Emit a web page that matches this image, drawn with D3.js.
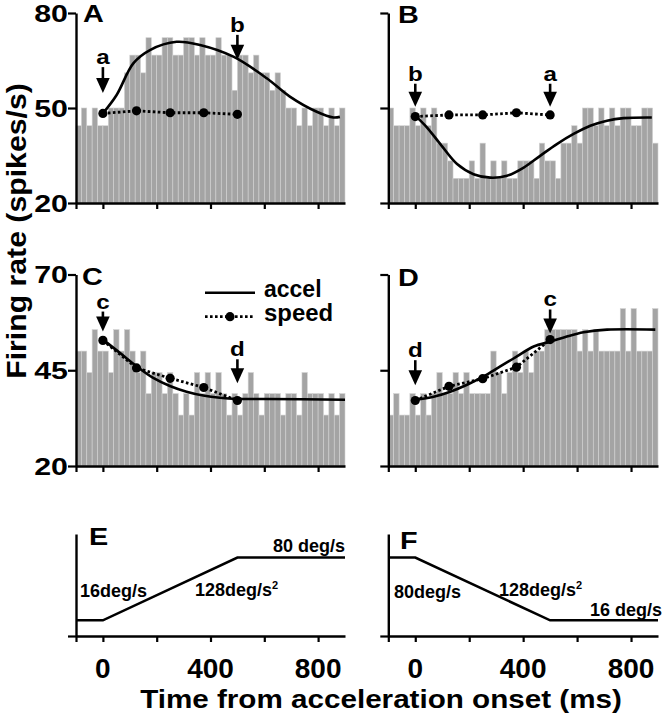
<!DOCTYPE html>
<html><head><meta charset="utf-8">
<script src="https://cdn.jsdelivr.net/npm/d3@7"></script>
<style>
body{margin:0;background:#fff}
svg{display:block}
text{font-family:"Liberation Sans",Arial,Helvetica,sans-serif;font-weight:bold;fill:#000}
</style>
</head><body>
<svg id="chart" width="662" height="719"></svg>
<script>
// ---------------- DATA ----------------
const binStartMs = [-100,-80,-60,-40,-20,0,20,40,60,80,100,120,140,160,180,200,220,240,260,280,300,320,340,360,380,400,420,440,460,480,500,520,540,560,580,600,620,640,660,680,700,720,740,760,780,800,820,840,860,880];
const binWidthMs = 20;

// firing rate histograms (spikes/s)
const histA = [44.4,50,44.4,50,44.4, 44.4,50,50,50,61.1, 66.7,66.7,61.1,72.2,66.7, 66.7,72.2,72.2,66.7,66.7, 72.2,72.2,66.7,72.2,66.7, 66.7,72.2,66.7,66.7,55.6, 66.7,66.7,61.1,66.7,61.1, 61.1,55.6,61.1,55.6,50, 50,44.4,50,44.4,50, 50,44.4,50,44.4,50];
const histB = [50,44.4,44.4,44.4,50, 44.4,50,44.4,50,38.9, 38.9,33.3,27.8,27.8,27.8, 33.3,27.8,38.9,27.8,33.3, 27.8,33.3,27.8,27.8,33.3, 33.3,33.3,27.8,38.9,33.3, 33.3,27.8,38.9,38.9,44.4, 38.9,50,50,44.4,50, 44.4,50,44.4,50,50, 44.4,44.4,50,50,38.9];
const histC = [50,50,44.4,55.6,50, 50,44.4,55.6,50,55.6, 50,44.4,50,38.9,44.4, 44.4,38.9,44.4,38.9,33.3, 38.9,33.3,44.4,38.9,44.4, 38.9,44.4,38.9,33.3,38.9, 33.3,38.9,44.4,38.9,33.3, 38.9,38.9,38.9,33.3,38.9, 38.9,33.3,44.4,38.9,38.9, 38.9,33.3,38.9,33.3,38.9];
const histD = [33.3,38.9,33.3,33.3,38.9, 33.3,38.9,33.3,38.9,44.4, 38.9,38.9,44.4,38.9,44.4, 38.9,38.9,38.9,38.9,50, 44.4,38.9,44.4,50,44.4, 50,44.4,50,50,55.6, 55.6,55.6,55.6,55.6,55.6, 50,55.6,50,55.6,50, 50,50,50,61.1,50, 61.1,50,50,50,61.1];

// acceleration-model fits ("accel", solid line)
const fitA_t = [0,51,113,175,274,361,485,609,695,795,857,881];
const fitA_v = [48.3,54.1,64.1,68.3,70.9,69.9,66.2,59.4,53.6,48.8,47.0,47.2];
const fitB_t = [0,43,93,155,216,278,340,402,463,525,587,649,711,772,877];
const fitB_v = [47.6,43.9,38.6,32.3,29.1,28.0,28.6,31.2,34.9,38.6,41.8,44.4,46.0,46.8,47.0];
const fitC_t = [0,64,126,187,249,311,373,435,500,609,900];
const fitC_v = [53.0,49.5,46.0,43.0,40.9,39.4,38.4,37.8,37.5,37.5,37.3];
const fitD_t = [0,68,130,192,253,315,377,439,503,562,624,711,890];
const fitD_v = [37.3,38.1,39.4,41.2,43.4,46.0,48.6,51.2,52.5,53.8,54.9,55.6,55.6];

// speed-model points ("speed", dotted line with dots)
const speedT = [0,125,250,375,500];
const speedA = [48.3,49.1,48.5,48.5,48.0];
const speedB = [47.3,47.8,47.8,48.5,47.8];
const speedC = [52.8,45.6,42.9,40.5,37.1];
const speedD = [37.1,40.8,42.8,45.8,53.0];

// stimulus speed profiles (deg/s)
const profileT = [-100,0,500,900];
const profileE = [16,16,80,80];
const profileF = [80,80,16,16];

// axis ticks
const xTicks = [-100,0,200,400,600,800];
const xTickLabels = [0,400,800];
const yTicksTop = [20,50,80];
const yTicksMid = [20,45,70];

// ---------------- DRAW ----------------
const svg = d3.select('#chart');
const xL = d3.scaleLinear().domain([-100,900]).range([76,345]);
const xR = d3.scaleLinear().domain([-100,900]).range([388.3,658]);
const yTop = d3.scaleLinear().domain([20,80]).range([203,13]);
const yMid = d3.scaleLinear().domain([20,70]).range([466,274.5]);
const yBot = d3.scaleLinear().domain([0,104]).range([636,534]);

function styleAxis(g){
  g.select('.domain').attr('stroke','#000').attr('stroke-width',2.4);
  g.selectAll('.tick line').attr('stroke','#000').attr('stroke-width',2.2);
  g.selectAll('.tick text').remove();
}

function scaledText(x,y,str,size,sx,anchor){
  return svg.append('text')
    .attr('transform',`translate(${x},${y}) scale(${sx},1)`)
    .attr('text-anchor',anchor||'start')
    .style('font-size',size+'px')
    .text(str);
}

function arrow(x, tipY, lab, off){
  const g = svg.append('g');
  g.append('line').attr('x1',x).attr('x2',x).attr('y1',tipY-off+3).attr('y2',tipY-12)
    .attr('stroke','#000').attr('stroke-width',2.6);
  g.append('path').attr('d',`M${x-6.8},${tipY-15}L${x+6.8},${tipY-15}L${x},${tipY}Z`).attr('fill','#000');
  scaledText(x, tipY-off, lab, 21, 1.15, 'middle');
}

const panels = [
  {letter:'A', x:xL, y:yTop, hist:histA, ft:fitA_t, fv:fitA_v, sp:speedA, yt:yTicksTop, ylab:true,
   arrows:[{t:0,v:54.7,l:'a',o:29},{t:500,v:65.2,l:'b',o:28}], lx:83, ly:22},
  {letter:'B', x:xR, y:yTop, hist:histB, ft:fitB_t, fv:fitB_v, sp:speedB, yt:yTicksTop, ylab:false,
   arrows:[{t:0,v:50.4,l:'b',o:26},{t:500,v:50.4,l:'a',o:26}], lx:398, ly:23},
  {letter:'C', x:xL, y:yMid, hist:histC, ft:fitC_t, fv:fitC_v, sp:speedC, yt:yTicksMid, ylab:true,
   arrows:[{t:0,v:55.1,l:'c',o:23},{t:500,v:41.6,l:'d',o:27}], lx:82, ly:285},
  {letter:'D', x:xR, y:yMid, hist:histD, ft:fitD_t, fv:fitD_v, sp:speedD, yt:yTicksMid, ylab:false,
   arrows:[{t:0,v:41.1,l:'d',o:28},{t:500,v:54.6,l:'c',o:27}], lx:398, ly:286}
];

panels.forEach(p=>{
  const y0 = p.y.domain()[0];
  // histogram bars
  svg.append('g').selectAll('rect').data(p.hist).join('rect')
    .attr('x',(d,i)=>p.x(binStartMs[i]))
    .attr('width',(d,i)=>p.x(binStartMs[i]+binWidthMs)-p.x(binStartMs[i]))
    .attr('y',d=>p.y(d))
    .attr('height',d=>p.y(y0)-p.y(d))
    .attr('fill','#a4a4a4').attr('stroke','#d2d2d2').attr('stroke-width',0.6);
  // axes
  const gy = svg.append('g').attr('transform',`translate(${p.x.range()[0]},0)`)
    .call(d3.axisLeft(p.y).tickValues(p.yt).tickSize(8).tickSizeOuter(0));
  styleAxis(gy);
  const gx = svg.append('g').attr('transform',`translate(0,${p.y.range()[0]})`)
    .call(d3.axisBottom(p.x).tickValues(xTicks).tickSize(6).tickSizeOuter(0));
  styleAxis(gx);
  if(p.ylab){
    p.yt.forEach(v=>scaledText(68, p.y(v)+8.5, String(v), 23, 1.32, 'end'));
  }
  // fit curve
  const line = d3.line().x(d=>p.x(d[0])).y(d=>p.y(d[1])).curve(d3.curveCatmullRom.alpha(0.5));
  svg.append('path').attr('d',line(p.ft.map((t,i)=>[t,p.fv[i]])))
    .attr('fill','none').attr('stroke','#000').attr('stroke-width',2.6);
  // speed dotted line + dots
  const sl = d3.line().x(d=>p.x(d[0])).y(d=>p.y(d[1]));
  const spts = speedT.map((t,i)=>[t,p.sp[i]]);
  svg.append('path').attr('d',sl(spts)).attr('fill','none').attr('stroke','#000')
    .attr('stroke-width',2.8).attr('stroke-dasharray','2.6,2.4');
  svg.append('g').selectAll('circle').data(spts).join('circle')
    .attr('cx',d=>p.x(d[0])).attr('cy',d=>p.y(d[1])).attr('r',4.6).attr('fill','#000');
  // arrows
  p.arrows.forEach(a=>arrow(p.x(a.t), p.y(a.v), a.l, a.o));
  // panel letter
  scaledText(p.lx, p.ly, p.letter, 24, 1.2, 'start');
});

// legend in panel C
svg.append('line').attr('x1',205).attr('x2',255).attr('y1',292.7).attr('y2',292.7)
  .attr('stroke','#000').attr('stroke-width',2.6);
svg.append('text').attr('x',264).attr('y',297).style('font-size','23px').text('accel');
svg.append('line').attr('x1',205).attr('x2',255).attr('y1',316.7).attr('y2',316.7)
  .attr('stroke','#000').attr('stroke-width',2.8).attr('stroke-dasharray','2.6,2.4');
svg.append('circle').attr('cx',230).attr('cy',316.7).attr('r',4.6).attr('fill','#000');
svg.append('text').attr('transform','translate(264,321) scale(1.04,1)').style('font-size','23px').text('speed');

// bottom panels E, F (stimulus profiles)
const stim = [
  {letter:'E', x:xL, prof:profileE, lx:89, ly:545},
  {letter:'F', x:xR, prof:profileF, lx:400, ly:549}
];
stim.forEach(s=>{
  const gy = svg.append('g').attr('transform',`translate(${s.x.range()[0]},0)`)
    .call(d3.axisLeft(yBot).tickValues([0]).tickSize(8).tickSizeOuter(0));
  styleAxis(gy);
  const gx = svg.append('g').attr('transform',`translate(0,${yBot.range()[0]})`)
    .call(d3.axisBottom(s.x).tickValues(xTicks).tickSize(6).tickSizeOuter(0));
  styleAxis(gx);
  const line = d3.line().x(d=>s.x(d[0])).y(d=>yBot(d[1]));
  svg.append('path').attr('d',line(profileT.map((t,i)=>[t,s.prof[i]])))
    .attr('fill','none').attr('stroke','#000').attr('stroke-width',2.6);
  xTickLabels.forEach(v=>{
    svg.append('text').attr('x',s.x(v)).attr('y',678).attr('text-anchor','middle')
      .style('font-size','28px').text(v);
  });
  scaledText(s.lx, s.ly, s.letter, 24, 1.2, 'start');
});

function supText(x,y,main,sup,anchor){
  const t = svg.append('text').attr('x',x).attr('y',y).attr('text-anchor',anchor||'start').style('font-size','18px');
  t.append('tspan').text(main);
  if(sup) t.append('tspan').attr('dy',-7).style('font-size','11px').text(sup);
  return t;
}
supText(80,597,'16deg/s');
supText(195,596,'128deg/s','2');
supText(345,551.5,'80 deg/s',null,'end');
supText(394,597.5,'80deg/s');
supText(499,596,'128deg/s','2');
supText(662,615.5,'16 deg/s',null,'end');

// axis titles
svg.append('text').attr('transform','translate(381,708) scale(1.14,1)').attr('text-anchor','middle')
  .style('font-size','26px').text('Time from acceleration onset (ms)');
svg.append('text').attr('transform','translate(26,231) rotate(-90) scale(1.08,1)').attr('text-anchor','middle')
  .style('font-size','28px').text('Firing rate (spikes/s)');
</script>
</body></html>
